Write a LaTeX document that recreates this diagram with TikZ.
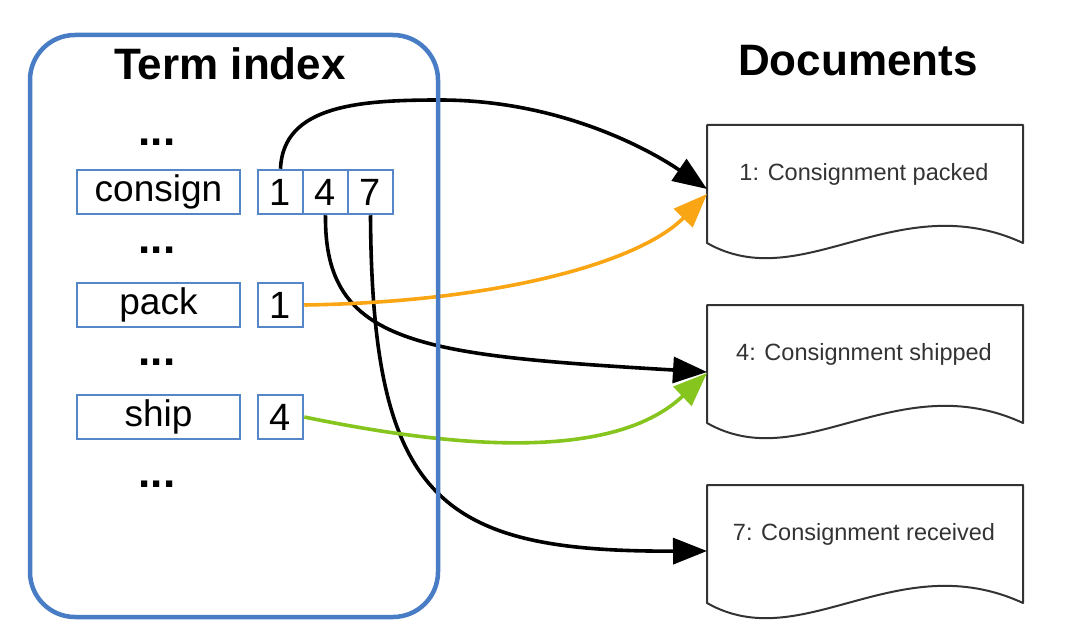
\documentclass[tikz,border=0pt]{standalone}
\usepackage{fontspec}
\setmainfont{Liberation Sans}
\usetikzlibrary{arrows.meta}
\definecolor{idxblue}{RGB}{72,124,196}
\definecolor{boxblue}{RGB}{84,134,200}
\definecolor{docgray}{RGB}{51,51,51}
\definecolor{arrorange}{RGB}{250,165,20}
\definecolor{arrgreen}{RGB}{134,196,30}
\newcommand\DocShape[2]{\draw[docline] (#1,#2+118) -- (#1,#2) -- (#1+316,#2) -- (#1+316,#2+118) .. controls (#1+190,#2+60) and (#1+95,#2+172) .. (#1,#2+118) -- cycle;}
\tikzset{
  bigbox/.style={draw=idxblue, line width=4.5pt, rounded corners=45pt, minimum width=408pt, minimum height=582pt, inner sep=0pt},
  term/.style={draw=boxblue, line width=2.5pt, minimum width=163pt, minimum height=44pt, inner sep=0pt, font=\fontsize{37}{40}\selectfont},
  cell/.style={draw=boxblue, line width=2.5pt, minimum width=45pt, minimum height=44pt, inner sep=0pt, font=\fontsize{38}{40}\selectfont},
  dots/.style={inner sep=0pt, font=\fontsize{44}{48}\selectfont\bfseries},
  title/.style={inner sep=0pt, font=\fontsize{44}{48}\selectfont\bfseries},
  doctext/.style={inner sep=0pt, text=docgray, font=\fontsize{23.5}{26}\selectfont},
  docline/.style={draw=docgray, line width=2pt, line join=round},
  conn/.style={line width=3.6pt, -{Triangle[length=34pt,width=26pt]}},
}
\begin{document}
\begin{tikzpicture}[x=1pt,y=-1pt]
\useasboundingbox (0,0) rectangle (1078,639);
% titles
\node[title] (ttl) at (230,64) {Term index};
\node[title] (dtl) at (858,61) {Documents};
% dots
\node[dots] (dA) at (157,142) {...};
\node[dots] (dB) at (157,250) {...};
\node[dots] (dC) at (157,362) {...};
\node[dots] (dD) at (157,484) {...};
% terms
\node[term] (consign) at (158.5,192) {consign};
\node[term] (pack) at (158.5,305) {pack};
\node[term] (ship) at (158.5,417) {ship};
% postings
\node[cell] (c1) at (280.5,192) {1};
\node[cell] (c4) at (325.5,192) {4};
\node[cell] (c7) at (370.5,192) {7};
\node[cell] (p1) at (280.5,305) {1};
\node[cell] (s4) at (280.5,417) {4};
% documents
\DocShape{707}{125}
\DocShape{707}{305}
\DocShape{707}{485}
\node[doctext] (d1) at (864,174) {1: Consignment packed};
\node[doctext] (d4) at (864,354) {4: Consignment shipped};
\node[doctext] (d7) at (864,534) {7: Consignment received};
\coordinate (in1a) at (707,189);
\coordinate (in1b) at (707,194);
\coordinate (in2a) at (707,372);
\coordinate (in2b) at (707,373);
\coordinate (in3) at (707,551);
% connectors
\draw[conn] (c1.north) .. controls (283,105) and (360,100) .. (440,100) .. controls (560,100) and (650,150) .. (in1a);
\draw[conn] (c4.south) .. controls (324,345) and (420,355) .. (in2a);
\draw[conn] (c7.south) .. controls (372,500) and (440,552) .. (in3);
\draw[conn, draw=arrorange] (p1.east) .. controls (500,302) and (640,262) .. (in1b);
\draw[conn, draw=arrgreen] (s4.east) .. controls (440,445) and (610,465) .. (in2b);
% big box
\node[bigbox] (index) at (234,326) {};
\end{tikzpicture}
\end{document}
